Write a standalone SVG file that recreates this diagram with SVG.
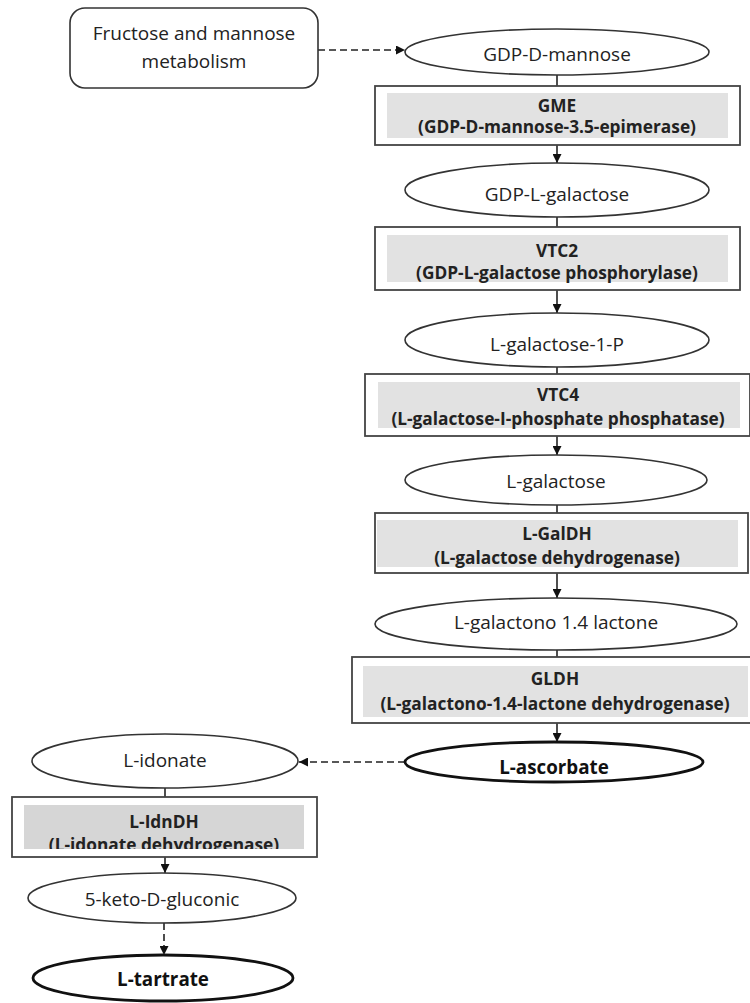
<svg xmlns="http://www.w3.org/2000/svg" width="750" height="1003" viewBox="0 0 750 1003">
<defs>
<style>
.bg{fill:#ffffff}
.node{fill:#ffffff;stroke:#333;stroke-width:1.6}
.thick{fill:#ffffff;stroke:#111;stroke-width:2.8}
.box{fill:#ffffff;stroke:#444;stroke-width:1.8}
.gray{fill:#e2e2e2;stroke:none}
.gray2{fill:#d6d6d6;stroke:none}
.t{font-family:"Open Sans","Liberation Sans",sans-serif;font-size:19px;fill:#222;text-anchor:middle}
.b{font-family:"Open Sans","Liberation Sans",sans-serif;font-size:17.3px;font-weight:bold;fill:#222;text-anchor:middle}
.tb{font-family:"Open Sans","Liberation Sans",sans-serif;font-size:18.8px;font-weight:bold;fill:#111;text-anchor:middle}
.c{stroke:#222;stroke-width:1.6;fill:none}
.d{stroke:#222;stroke-width:1.6;fill:none;stroke-dasharray:7,4}
</style>
<marker id="ah" viewBox="0 0 10 10" refX="10" refY="5" markerWidth="10" markerHeight="9" markerUnits="userSpaceOnUse" orient="auto">
<path d="M0,0 L10,5 L0,10 z" fill="#111"/>
</marker>
<clipPath id="clipIdn"><rect x="24" y="805" width="280" height="44"/></clipPath>
</defs>
<rect class="bg" x="0" y="0" width="750" height="1003"/>

<g id="connectors">
<line class="d" x1="318" y1="50" x2="405" y2="50" marker-end="url(#ah)"/>
<line class="c" x1="557" y1="75" x2="557" y2="86"/>
<line class="c" x1="557" y1="145" x2="557" y2="163" marker-end="url(#ah)"/>
<line class="c" x1="557" y1="217" x2="557" y2="227"/>
<line class="c" x1="557" y1="290" x2="557" y2="313" marker-end="url(#ah)"/>
<line class="c" x1="557" y1="367" x2="557" y2="374"/>
<line class="c" x1="557" y1="436" x2="557" y2="455" marker-end="url(#ah)"/>
<line class="c" x1="557" y1="505" x2="557" y2="513"/>
<line class="c" x1="557" y1="573" x2="557" y2="598" marker-end="url(#ah)"/>
<line class="c" x1="557" y1="650" x2="557" y2="657"/>
<line class="c" x1="557" y1="723" x2="557" y2="742" marker-end="url(#ah)"/>
<line class="d" x1="405" y1="762" x2="299" y2="762" marker-end="url(#ah)"/>
<line class="c" x1="165" y1="788" x2="165" y2="797"/>
<line class="c" x1="165" y1="857" x2="165" y2="873" marker-end="url(#ah)"/>
<line class="d" x1="164" y1="923" x2="164" y2="955" marker-end="url(#ah)"/>
</g>

<g id="fructose">
<rect class="node" x="70" y="8" width="248" height="80" rx="15" ry="15"/>
<text class="t" x="194" y="40">Fructose and mannose</text>
<text class="t" x="194" y="68">metabolism</text>
</g>

<g id="gdp-d-mannose">
<ellipse class="node" cx="557" cy="52" rx="152" ry="23"/>
<text class="t" x="557" y="61">GDP-D-mannose</text>
</g>

<g id="gme">
<rect class="box" x="375" y="86" width="365" height="59"/>
<rect class="gray" x="387" y="93" width="341" height="45"/>
<text class="b" x="557" y="112">GME</text>
<text class="b" x="557" y="133">(GDP-D-mannose-3.5-epimerase)</text>
</g>

<g id="gdp-l-galactose">
<ellipse class="node" cx="557" cy="190" rx="152" ry="27"/>
<text class="t" x="557" y="201">GDP-L-galactose</text>
</g>

<g id="vtc2">
<rect class="box" x="375" y="227" width="365" height="63"/>
<rect class="gray" x="387" y="235" width="341" height="47"/>
<text class="b" x="557" y="257">VTC2</text>
<text class="b" x="557" y="279">(GDP-L-galactose phosphorylase)</text>
</g>

<g id="l-galactose-1-p">
<ellipse class="node" cx="557" cy="340" rx="152" ry="27"/>
<text class="t" x="557" y="351">L-galactose-1-P</text>
</g>

<g id="vtc4">
<rect class="box" x="365" y="374" width="385" height="62"/>
<rect class="gray" x="378" y="382" width="362" height="46"/>
<text class="b" x="558" y="401">VTC4</text>
<text class="b" x="558" y="425">(L-galactose-I-phosphate phosphatase)</text>
</g>

<g id="l-galactose">
<ellipse class="node" cx="556" cy="480" rx="151" ry="25"/>
<text class="t" x="556" y="488">L-galactose</text>
</g>

<g id="l-galdh">
<rect class="box" x="375" y="513" width="373" height="60"/>
<rect class="gray" x="377" y="520" width="361" height="47"/>
<text class="b" x="557" y="540">L-GalDH</text>
<text class="b" x="557" y="564">(L-galactose dehydrogenase)</text>
</g>

<g id="l-galactono">
<ellipse class="node" cx="556" cy="624" rx="181" ry="26"/>
<text class="t" x="556" y="629">L-galactono 1.4 lactone</text>
</g>

<g id="gldh">
<rect class="box" x="352" y="657" width="400" height="66"/>
<rect class="gray" x="363" y="666" width="385" height="51"/>
<text class="b" x="555" y="685">GLDH</text>
<text class="b" x="555" y="710">(L-galactono-1.4-lactone dehydrogenase)</text>
</g>

<g id="l-ascorbate">
<ellipse class="thick" cx="554" cy="762" rx="149" ry="20"/>
<text class="tb" x="554" y="774">L-ascorbate</text>
</g>

<g id="l-idonate">
<ellipse class="node" cx="165" cy="761" rx="133" ry="27"/>
<text class="t" x="165" y="767">L-idonate</text>
</g>

<g id="l-idndh">
<rect class="box" x="12" y="797" width="305" height="60"/>
<rect class="gray2" x="24" y="805" width="280" height="44"/>
<text class="b" x="164" y="828">L-IdnDH</text>
<text class="b" x="164" y="851" clip-path="url(#clipIdn)">(L-idonate dehydrogenase)</text>
</g>

<g id="keto">
<ellipse class="node" cx="162" cy="898" rx="134" ry="25"/>
<text class="t" x="162" y="906">5-keto-D-gluconic</text>
</g>

<g id="l-tartrate">
<ellipse class="thick" cx="163" cy="978" rx="130" ry="23"/>
<text class="tb" x="163" y="986">L-tartrate</text>
</g>
</svg>
